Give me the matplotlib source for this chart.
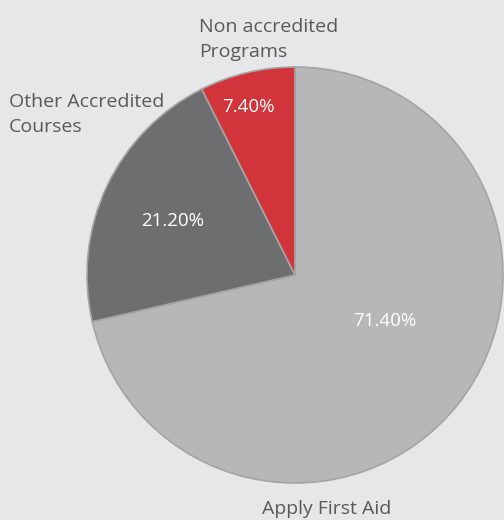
import matplotlib.pyplot as plt

plt.rcParams['font.family'] = ['Open Sans', 'DejaVu Sans']

labels = ["Apply First Aid", "Other Accredited\nCourses", "Non accredited\nPrograms"]
values = [71.4, 21.2, 7.4]
colors = ["#b6b7b9", "#6d6e70", "#d1343a"]

bg = "#e6e7e8"
fig = plt.figure(figsize=(5.04, 5.2), dpi=100, facecolor=bg)
ax = fig.add_axes([87 / 504, 37 / 520, 416 / 504, 416 / 520])
ax.set_facecolor(bg)

wedges, texts, autotexts = ax.pie(
    values, colors=colors, startangle=90, counterclock=False,
    autopct="%.2f%%", pctdistance=0.65,
    wedgeprops=dict(edgecolor="#a3a4a6", linewidth=1.2),
    textprops=dict(color="white", fontsize=13.5),
)
# nudge the value labels to where they sit in the original
autotexts[0].set_position((0.43, -0.22))
autotexts[1].set_position((-0.59, 0.26))
autotexts[2].set_position((-0.225, 0.81))

ax.set_xlim(-1, 1)
ax.set_ylim(-1, 1)
ax.set_aspect("equal")
ax.axis("off")

txt = dict(color="#58595b", fontsize=14, ha="left", va="baseline", linespacing=1.5)
fig.text(199 / 504, 1 - 57 / 520, labels[2], **txt)
fig.text(9 / 504, 1 - 132 / 520, labels[1], **txt)
fig.text(262 / 504, 1 - 514 / 520, labels[0], **txt)

fig.savefig("out.png", dpi=100, facecolor=bg)
